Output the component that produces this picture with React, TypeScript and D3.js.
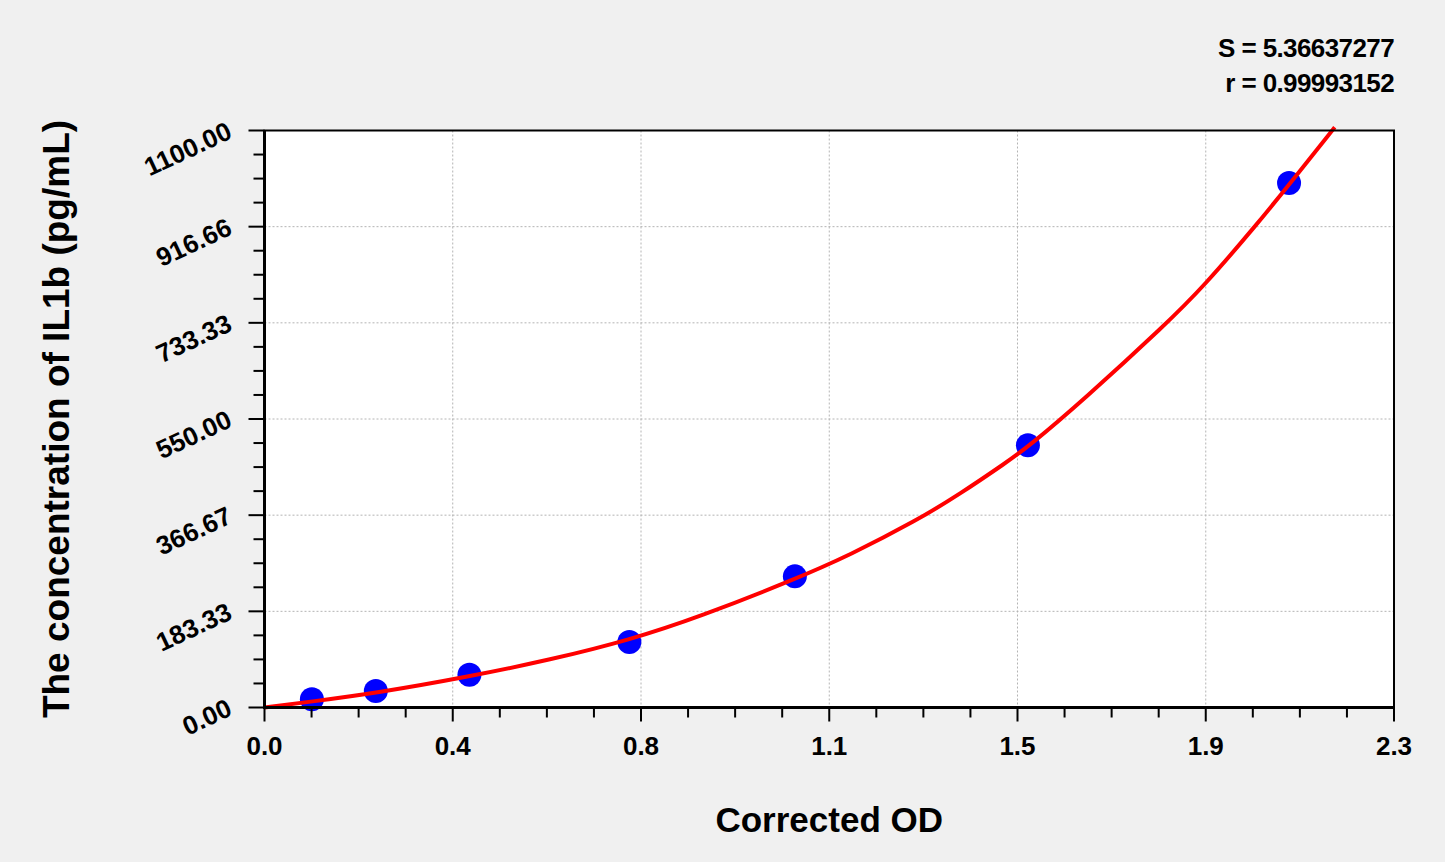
import React from 'react'
import * as d3 from 'd3'

// standards (Corrected OD vs concentration)
const stdOD = [0.0965, 0.2267, 0.4173, 0.743, 1.08, 1.5545, 2.0863]
const stdConc = [15.6, 31.25, 62.5, 125, 250, 500, 1000]

// fitted curve
const fitOD = [0, 0.0965, 0.2267, 0.4173, 0.5815, 0.7443, 0.8868, 1.0767, 1.1921, 1.3279, 1.416, 1.5111, 1.555, 1.667, 1.8368, 1.9112, 2.02, 2.0877, 2.1793]
const fitConc = [0, 11.4, 27.4, 59.0, 90.8, 128.9, 173.3, 243.1, 290.7, 356.4, 407.0, 467.5, 496.9, 585.9, 731.9, 801.6, 920.0, 998.5, 1106.2]

const xTickValues = [0, 0.38333, 0.76667, 1.15, 1.53333, 1.91667, 2.3]
const xTickLabels = ['0.0', '0.4', '0.8', '1.1', '1.5', '1.9', '2.3']
const yTickValues = [0, 183.333, 366.667, 550, 733.333, 916.667, 1100]
const yTickLabels = ['0.00', '183.33', '366.67', '550.00', '733.33', '916.66', '1100.00']

const statLines = ['S = 5.36637277', 'r = 0.99993152']

const W = 1445
const H = 862
const font = "'Liberation Sans', Arial, sans-serif"

export default function App() {
  const x = d3.scaleLinear().domain([0, 2.3]).range([264.5, 1394])
  const y = d3.scaleLinear().domain([0, 1100]).range([707.5, 130.5])

  const xMinor: number[] = []
  for (let i = 0; i < xTickValues.length - 1; i++) {
    const step = (xTickValues[i + 1] - xTickValues[i]) / 4
    for (let k = 1; k < 4; k++) xMinor.push(xTickValues[i] + step * k)
  }
  const yMinor: number[] = []
  for (let i = 0; i < yTickValues.length - 1; i++) {
    const step = (yTickValues[i + 1] - yTickValues[i]) / 4
    for (let k = 1; k < 4; k++) yMinor.push(yTickValues[i] + step * k)
  }

  const fit = fitOD.map((d, i) => [d, fitConc[i]] as [number, number])
  const line = d3
    .line<[number, number]>()
    .x((d) => x(d[0]))
    .y((d) => y(d[1]))
    .curve(d3.curveBasis)

  const [x0, x1] = x.range()
  const [y0, y1] = y.range()

  return (
    <svg width={W} height={H} style={{ position: 'absolute', left: 0, top: 0 }} fontFamily={font}>
      <rect width={W} height={H} fill="#f0f0f0" />
      <rect x={x0} y={y1} width={x1 - x0} height={y0 - y1} fill="#fff" />

      {/* grid */}
      <g stroke="#b4b4b4" strokeWidth={1} strokeDasharray="2,2">
        {xTickValues.slice(1, -1).map((v) => (
          <line key={'gx' + v} x1={x(v)} x2={x(v)} y1={y1} y2={y0} />
        ))}
        {yTickValues.slice(1, -1).map((v) => (
          <line key={'gy' + v} x1={x0} x2={x1} y1={y(v)} y2={y(v)} />
        ))}
      </g>

      {/* standards */}
      {stdOD.map((d, i) => (
        <circle key={'p' + i} cx={x(d)} cy={y(stdConc[i])} r={12} fill="#0000ff" />
      ))}

      {/* fitted curve */}
      <path d={line(fit) || ''} fill="none" stroke="#ff0000" strokeWidth={4} strokeLinejoin="round" />

      {/* frame */}
      <rect x={x0} y={y1} width={x1 - x0} height={y0 - y1} fill="none" stroke="#000" strokeWidth={2} />
      <line x1={x0} x2={x0} y1={y1} y2={y0 + 1.5} stroke="#000" strokeWidth={3} />
      <line x1={x0 - 1.5} x2={x1} y1={y0} y2={y0} stroke="#000" strokeWidth={3} />

      {/* ticks */}
      <g stroke="#000" strokeWidth={2}>
        {xTickValues.map((v) => (
          <line key={'tx' + v} x1={x(v)} x2={x(v)} y1={y0} y2={y0 + 14} />
        ))}
        {xMinor.map((v) => (
          <line key={'mx' + v} x1={x(v)} x2={x(v)} y1={y0} y2={y0 + 10} />
        ))}
        {yTickValues.map((v) => (
          <line key={'ty' + v} x1={x0 - 16} x2={x0} y1={y(v)} y2={y(v)} />
        ))}
        {yMinor.map((v) => (
          <line key={'my' + v} x1={x0 - 11} x2={x0} y1={y(v)} y2={y(v)} />
        ))}
      </g>

      {/* tick labels */}
      <g fontSize={26} fontWeight="bold" fill="#000">
        {xTickValues.map((v, i) => (
          <text key={'lx' + v} x={x(v)} y={755} textAnchor="middle">
            {xTickLabels[i]}
          </text>
        ))}
        {yTickValues.map((v, i) => (
          <text
            key={'ly' + v}
            transform={`translate(${x0 - 31},${y(v) + 7}) rotate(-25)`}
            textAnchor="end"
          >
            {yTickLabels[i]}
          </text>
        ))}
      </g>

      {/* axis titles */}
      <text x={(x0 + x1) / 2} y={832} textAnchor="middle" fontSize={35} fontWeight="bold">
        Corrected OD
      </text>
      <text
        transform={`translate(69,${(y0 + y1) / 2}) rotate(-90)`}
        textAnchor="middle"
        fontSize={37}
        fontWeight="bold"
      >
        The concentration of IL1b (pg/mL)
      </text>

      {/* fit statistics */}
      {statLines.map((s, i) => (
        <text key={s} x={1394} y={57 + i * 35} textAnchor="end" fontSize={26} fontWeight="bold" letterSpacing={-0.6}>
          {s}
        </text>
      ))}
    </svg>
  )
}
